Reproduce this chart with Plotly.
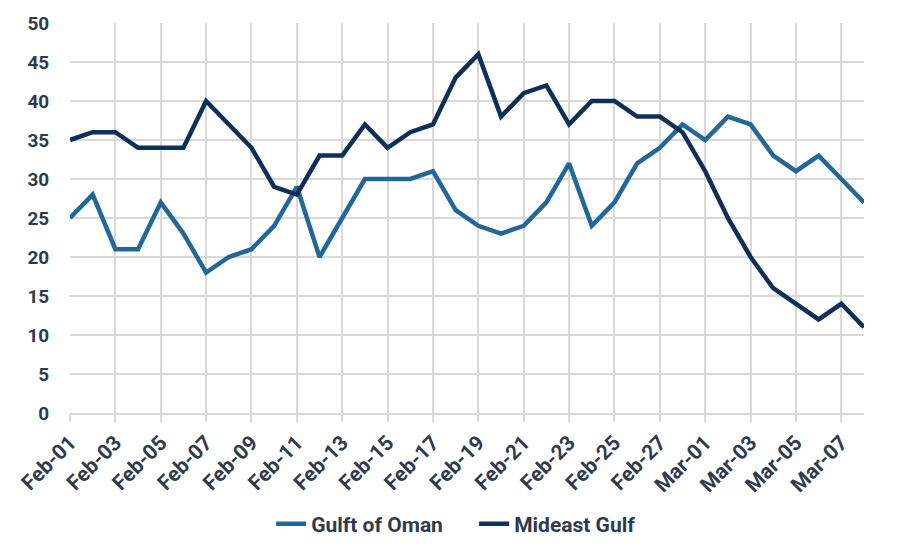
import plotly.graph_objects as go

dates = [f"Feb-{d:02d}" for d in range(1, 29)] + [f"Mar-{d:02d}" for d in range(1, 9)]
gulf_of_oman = [25, 28, 21, 21, 27, 23, 18, 20, 21, 24, 29, 20, 25, 30, 30, 30, 31, 26,
                24, 23, 24, 27, 32, 24, 27, 32, 34, 37, 35, 38, 37, 33, 31, 33, 30, 27]
mideast_gulf = [35, 36, 36, 34, 34, 34, 40, 37, 34, 29, 28, 33, 33, 37, 34, 36, 37, 43,
                46, 38, 41, 42, 37, 40, 40, 38, 38, 36, 31, 25, 20, 16, 14, 12, 14, 11]
tick_labels = dates[::2]
y_ticks = list(range(0, 51, 5))

text_color = "#2f3b4c"
font = "Roboto, Arial, sans-serif"

fig = go.Figure()
fig.add_trace(go.Scatter(x=dates, y=gulf_of_oman, mode="lines", name="Gulft of Oman",
                         line=dict(color="#236799", width=4.5)))
fig.add_trace(go.Scatter(x=dates, y=mideast_gulf, mode="lines", name="Mideast Gulf",
                         line=dict(color="#0e2f56", width=4.5)))

# page body has an 8px default margin, so the figure is placed at (8, 8)
fig.update_layout(
    width=896, height=548,
    margin=dict(l=62, r=40, t=15, b=143, autoexpand=False),
    plot_bgcolor="white", paper_bgcolor="white",
    font=dict(family=font, color=text_color, size=20),
    showlegend=True,
    legend=dict(orientation="h", x=0.509, xanchor="center", y=-0.285, yanchor="middle",
                font=dict(family=font, size=21, color=text_color, weight="bold"),
                tracegroupgap=0, entrywidth=158, entrywidthmode="pixels"),
    xaxis=dict(
        type="category", categoryorder="array", categoryarray=dates,
        range=[0, len(dates) - 1],
        tickmode="array", tickvals=tick_labels, ticktext=tick_labels,
        tickangle=-45, ticks="outside", ticklen=7, tickcolor="#d9d9d9", tickwidth=2,
        showgrid=True, gridcolor="#d9d9d9", gridwidth=2,
        showline=True, linecolor="#d9d9d9", linewidth=2,
        tickfont=dict(family=font, size=21, color=text_color, weight="bold"),
        zeroline=False,
    ),
    yaxis=dict(
        range=[0, 50], tickvals=y_ticks,
        showgrid=True, gridcolor="#d9d9d9", gridwidth=2,
        zeroline=False, showline=False,
        ticks="outside", ticklen=16, tickcolor="rgba(0,0,0,0)",
        tickfont=dict(family=font, size=19, color=text_color, weight="bold"),
    ),
)

fig.write_html("out.html")
